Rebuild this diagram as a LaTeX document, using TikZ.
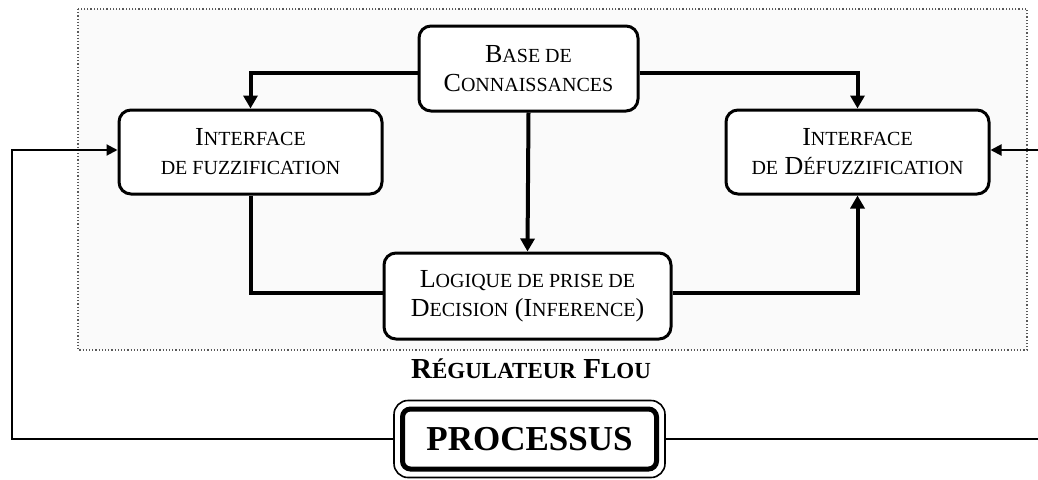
\documentclass[tikz,border=0pt]{standalone}
\usepackage{fontspec}
\setmainfont{Liberation Serif}
\usetikzlibrary{arrows.meta,fit}

% reduced capitals used for the small-caps look
\newcommand\SC[1]{{\fontsize{20}{29}\selectfont #1}}
\newcommand\SCb[1]{{\fontsize{23}{29}\selectfont #1}}

\tikzset{
  block/.style={draw, line width=3pt, rounded corners=12pt, fill=white,
    align=center, inner sep=0pt, font=\fontsize{26}{29}\selectfont},
  flow/.style={line width=4pt, -{Triangle[length=13pt,width=14pt]}},
  link/.style={line width=4pt},
  loop/.style={line width=2pt},
  looparrow/.style={line width=2pt, -{Triangle[length=11pt,width=11pt]}},
}

\begin{document}
\begin{tikzpicture}[x=1pt,y=-1pt]
  \useasboundingbox (0,0) rectangle (1038,479);

  % controller frame
  \draw[gray!70!black, line width=1.2pt, dotted, fill=gray!4] (78,9) rectangle (1027,350);

  % blocks of the fuzzy controller
  \node[block, minimum width=219pt, minimum height=85pt] (base) at (528.5,68.5)
    {B\SC{ASE DE}\\C\SC{ONNAISSANCES}};
  \node[block, minimum width=263pt, minimum height=84pt] (fuzz) at (250.5,152)
    {I\SC{NTERFACE}\\\SC{DE FUZZIFICATION}};
  \node[block, minimum width=263pt, minimum height=84pt] (defuzz) at (857.5,152)
    {I\SC{NTERFACE}\\\SC{DE} D\SC{ÉFUZZIFICATION}};
  \node[block, minimum width=287pt, minimum height=86pt] (logic) at (527.5,296)
    {L\SC{OGIQUE DE PRISE DE}\\D\SC{ECISION} (I\SC{NFERENCE})};

  \node[font=\bfseries\fontsize{29}{29}\selectfont] (title) at (531,369)
    {R\SCb{ÉGULATEUR} F\SCb{LOU}};

  % plant
  \node[draw, line width=5pt, rounded corners=8pt, fill=white, minimum width=254pt,
    minimum height=60pt, inner sep=0pt, font=\bfseries\fontsize{35}{40}\selectfont]
    (proc) at (529.5,439) {PROCESSUS};
  \node[draw, line width=1.6pt, rounded corners=14pt, fit=(proc), inner sep=6pt]
    (procout) {};

  % internal connections
  \draw[flow] ([yshift=-4pt]base.west) -| (fuzz.north);
  \draw[flow] ([yshift=-4pt]base.east) -| (defuzz.north);
  \draw[flow] (base.south) -- (logic.north);
  \draw[link] (fuzz.south) |- ([yshift=3pt]logic.west);
  \draw[flow] ([yshift=3pt]logic.east) -| (defuzz.south);

  % feedback loop
  \coordinate (lx) at (12,0);
  \coordinate (rx) at (1040,0);
  \draw[looparrow] (procout.west) -| ([yshift=2pt]fuzz.west -| lx) -- ([yshift=2pt]fuzz.west);
  \draw[loop] (procout.east) -- (procout.east -| rx);
  \draw[looparrow] ([yshift=2pt]defuzz.east -| rx) -- ([yshift=2pt]defuzz.east);
\end{tikzpicture}
\end{document}
